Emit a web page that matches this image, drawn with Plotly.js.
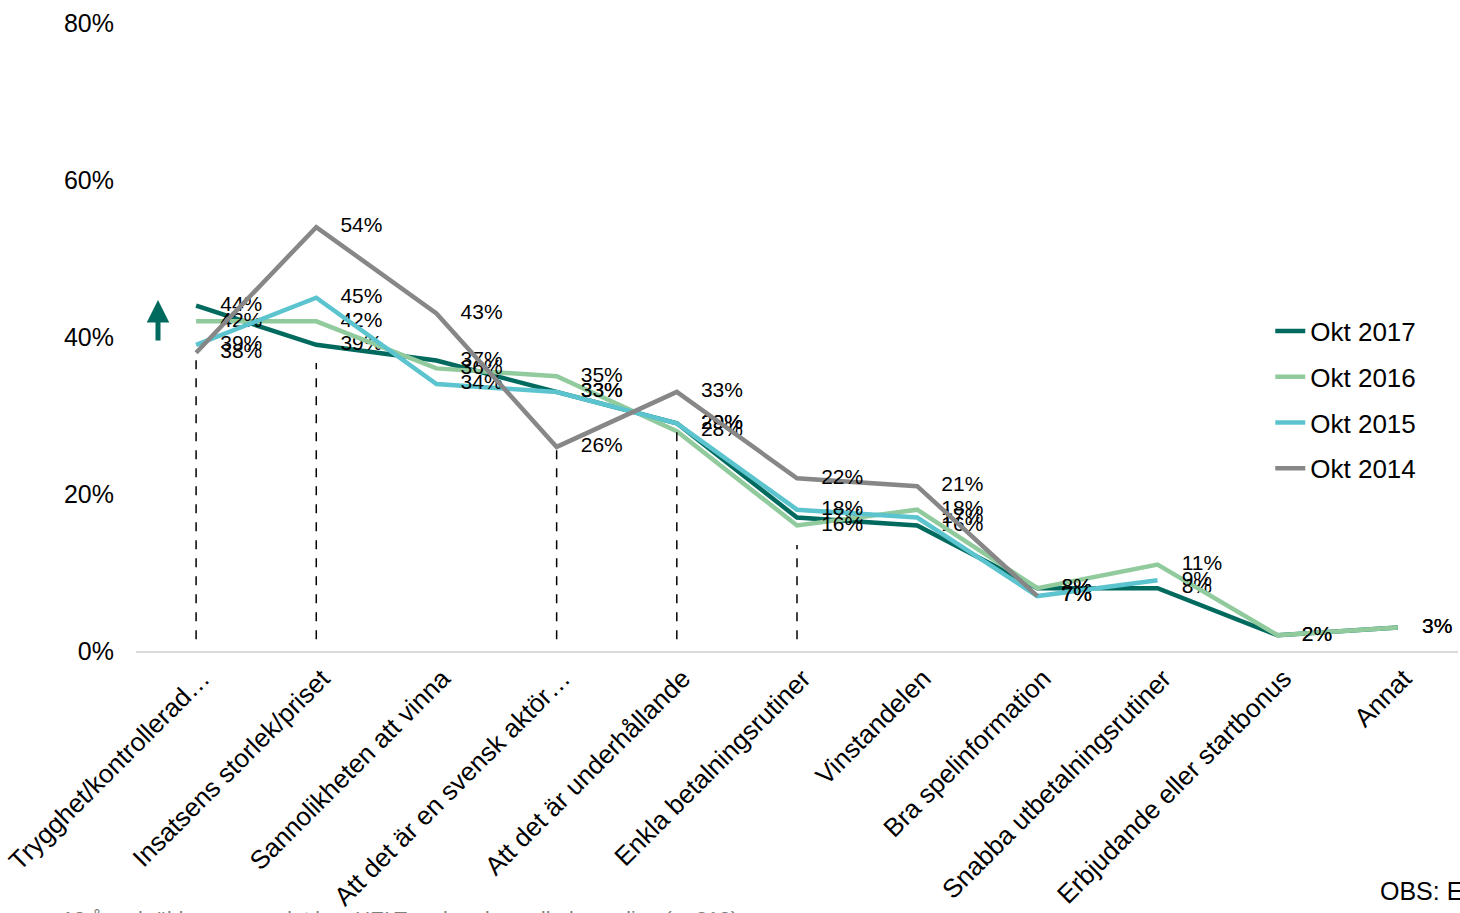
<!DOCTYPE html>
<html>
<head>
<meta charset="utf-8">
<script src="https://cdn.plot.ly/plotly-3.0.1.min.js"></script>
<style>html,body{margin:0;padding:0;background:#fff;}#chart{width:1460px;height:913px;}</style>
</head>
<body>
<div id="chart"></div>
<script>
const categories = [
  "Trygghet/kontrollerad…",
  "Insatsens storlek/priset",
  "Sannolikheten att vinna",
  "Att det är en svensk aktör…",
  "Att det är underhållande",
  "Enkla betalningsrutiner",
  "Vinstandelen",
  "Bra spelinformation",
  "Snabba utbetalningsrutiner",
  "Erbjudande eller startbonus",
  "Annat"
];
const okt2017 = [44, 39, 37, 33, 29, 17, 16, 8, 8, 2, 3];
const okt2016 = [42, 42, 36, 35, 28, 16, 18, 8, 11, 2, 3];
const okt2015 = [39, 45, 34, 33, 29, 18, 17, 7, 9, null, null];
const okt2014 = [38, 54, 43, 26, 33, 22, 21, 7, null, null, null];
const seriesNames = ["Okt 2017", "Okt 2016", "Okt 2015", "Okt 2014"];
const seriesColors = ["#006a5f", "#91cb9d", "#5cc4cf", "#878787"];

// dashed drop lines (category index, top value in %)
const dropCats = [0, 1, 3, 4, 5];
const dropTops = [37.7, 36.7, 25.6, 28.2, 13.5];
const dropBottom = 1.5;

const footNote = "OBS: E";
const baseNote = "18 år och äldre som spelat hos HELT reglerade spelbolag online (n=313)";

const seriesData = [okt2017, okt2016, okt2015, okt2014];
const traces = seriesData.map((vals, i) => ({
  type: "scatter",
  mode: "lines+markers+text",
  name: seriesNames[i],
  legendgroup: "g" + i,
  x: categories,
  y: vals,
  line: { color: seriesColors[i], width: 4.5 },
  marker: { size: 37, color: "rgba(0,0,0,0)", line: { width: 0 } },
  texttemplate: "%{y:.0f}%",
  textposition: "middle right",
  textfont: { family: "Liberation Sans, Arial, sans-serif", size: 21, color: "#000" },
  cliponaxis: false,
  hoverinfo: "skip"
}));

const shapes = dropCats.map((c, i) => ({
  type: "line",
  xref: "x", yref: "y",
  x0: categories[c], x1: categories[c],
  y0: dropBottom, y1: dropTops[i],
  line: { color: "#000", width: 1.5, dash: "dash" }
}));

const layout = {
  width: 1460, height: 913,
  margin: { l: 136, r: 2, t: 23, b: 262 },
  paper_bgcolor: "#fff", plot_bgcolor: "#fff",
  font: { family: "Liberation Sans, Arial, sans-serif", color: "#000" },
  showlegend: true,
  legend: {
    x: 0.858, y: 0.547, xanchor: "left", yanchor: "top",
    font: { size: 26, color: "#000" },
    tracegroupgap: 9,
    bgcolor: "rgba(0,0,0,0)"
  },
  xaxis: {
    type: "category",
    range: [-0.5, 10.5],
    tickangle: -45,
    tickfont: { size: 26, color: "#000" },
    showline: true, linecolor: "#d9d9d9", linewidth: 2,
    showgrid: false, zeroline: false, ticks: "",
    ticklabelshift: 6
  },
  yaxis: {
    range: [0, 80],
    dtick: 20,
    ticksuffix: "%",
    tickfont: { size: 25, color: "#000" },
    showgrid: false, zeroline: false, showline: false, ticks: "",
    ticklabelstandoff: 21
  },
  shapes: shapes,
  annotations: [
    {
      xref: "paper", yref: "y",
      x: (158 - 136) / 1322, y: 44.7,
      ax: 0, ay: 42, axref: "pixel", ayref: "pixel",
      text: "", showarrow: true,
      arrowhead: 2, arrowsize: 0.9, arrowwidth: 5, arrowcolor: "#006a5f",
      standoff: 0, startstandoff: 0
    },
    {
      xref: "paper", yref: "paper",
      x: (1378 - 136) / 1322, y: (651 - 891) / 628,
      xanchor: "left", yanchor: "middle",
      text: footNote, showarrow: false,
      font: { size: 25, color: "#000" }
    },
    {
      xref: "paper", yref: "paper",
      x: (60 - 136) / 1322, y: (651 - 918) / 628,
      xanchor: "left", yanchor: "middle",
      text: baseNote, showarrow: false,
      font: { size: 21, color: "#7f7f7f" }
    }
  ]
};

Plotly.newPlot("chart", traces, layout, { displayModeBar: false, staticPlot: true });
</script>
</body>
</html>
